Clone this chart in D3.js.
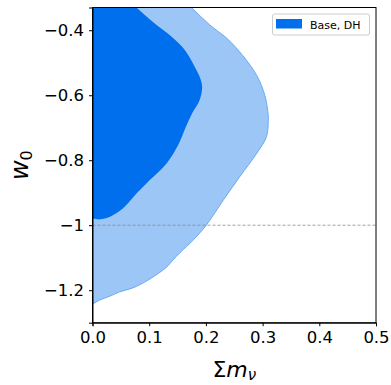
<!DOCTYPE html>
<html><head><meta charset="utf-8">
<script src="https://cdn.jsdelivr.net/npm/d3@7"></script>
<style>body{margin:0;background:#fff}svg{display:block;font-family:"DejaVu Sans",sans-serif}</style>
</head><body><svg id="c" width="391" height="385"></svg>
<script>
// Outer (95%) contour, Σmν vs w0
const outerM = [-0.05, 0.150, 0.175, 0.207, 0.237, 0.265, 0.290, 0.304, 0.310, 0.310, 0.307, 0.290, 0.260, 0.231, 0.201, 0.178, 0.154, 0.142, 0.130, 0.096, 0.071, 0.048, 0.031, 0.013, 0.0, -0.05];
const outerW = [-0.25, -0.29, -0.331, -0.384, -0.425, -0.478, -0.540, -0.601, -0.663, -0.678, -0.727, -0.778, -0.850, -0.922, -0.999, -1.045, -1.085, -1.107, -1.130, -1.171, -1.193, -1.205, -1.218, -1.230, -1.242, -1.26];
// Inner (68%) contour
const innerM = [-0.05, 0.057, 0.078, 0.113, 0.137, 0.160, 0.178, 0.193, 0.189, 0.176, 0.164, 0.152, 0.131, 0.101, 0.078, 0.054, 0.031, 0.013, 0.0, -0.05];
const innerW = [-0.25, -0.298, -0.331, -0.384, -0.416, -0.455, -0.505, -0.567, -0.615, -0.655, -0.700, -0.750, -0.809, -0.861, -0.902, -0.948, -0.974, -0.982, -0.979, -0.975];
const xTicks = [0, 0.1, 0.2, 0.3, 0.4, 0.5];
const xTickLabels = ["0.0", "0.1", "0.2", "0.3", "0.4", "0.5"];
const yTicks = [-0.4, -0.6, -0.8, -1.0, -1.2];
const yTickLabels = ["\u22120.4", "\u22120.6", "\u22120.8", "\u22121", "\u22121.2"];
const refW = -1;
const legendLabel = "Base, DH";

const L = 92.5, R = 376, T = 7.5, B = 322.7;
const x = d3.scaleLinear().domain([0, 0.5]).range([L, R]);
const y = d3.scaleLinear().domain([-1.3, -0.33]).range([B, T]);
const svg = d3.select("#c");

svg.append("defs").append("clipPath").attr("id", "clip")
  .append("rect").attr("x", L).attr("y", T).attr("width", R - L).attr("height", B - T);

const g = svg.append("g").attr("clip-path", "url(#clip)");
const line = d3.line().x(d => x(d[0])).y(d => y(d[1])).curve(d3.curveCatmullRomClosed.alpha(0.5));
const outer = outerM.map((m, i) => [m, outerW[i]]);
const inner = innerM.map((m, i) => [m, innerW[i]]);
g.append("path").attr("d", line(outer)).attr("fill", "#9cc6f6").attr("stroke", "#6aa9f1").attr("stroke-width", 1);
g.append("path").attr("d", line(inner)).attr("fill", "#006FED").attr("stroke", "none");

g.append("line").attr("x1", L).attr("x2", R).attr("y1", y(refW)).attr("y2", y(refW))
  .attr("stroke", "#888").attr("stroke-width", 0.8).attr("stroke-dasharray", "3,2");

// frame
svg.append("rect").attr("x", L).attr("y", T).attr("width", R - L).attr("height", B - T)
  .attr("fill", "none").attr("stroke", "#000").attr("stroke-width", 1);

const xa = svg.append("g").attr("transform", `translate(0,${B})`)
  .call(d3.axisBottom(x).tickValues(xTicks).tickFormat((d, i) => xTickLabels[i]).tickSize(3.5).tickPadding(5));
const ya = svg.append("g").attr("transform", `translate(${L},0)`)
  .call(d3.axisLeft(y).tickValues(yTicks).tickFormat((d, i) => yTickLabels[i]).tickSize(3.5).tickPadding(5));
[xa, ya].forEach(a => {
  a.select(".domain").attr("stroke", "#000").attr("stroke-width", 1);
  a.selectAll(".tick line").attr("stroke", "#000").attr("stroke-width", 1);
  a.selectAll(".tick text").attr("fill", "#000").style("font-family", "DejaVu Sans").style("font-size", "16.5px");
});

// axis labels
svg.append("text").attr("x", (L + R) / 2).attr("y", 377).attr("text-anchor", "middle")
  .style("font-size", "22px").html('\u03A3<tspan font-style="italic">m</tspan><tspan font-style="italic" font-size="15" dy="3">\u03BD</tspan>');
svg.append("text").attr("transform", `translate(28,${(T + B) / 2}) rotate(-90)`).attr("text-anchor", "middle")
  .style("font-size", "24px").html('<tspan font-style="italic">w</tspan><tspan font-size="16" dy="4">0</tspan>');

// legend
const lg = svg.append("g");
lg.append("rect").attr("x", 272.5).attr("y", 14).attr("width", 97).attr("height", 21).attr("rx", 2)
  .attr("fill", "#fff").attr("fill-opacity", 0.8).attr("stroke", "#ccc").attr("stroke-width", 1);
lg.append("rect").attr("x", 276).attr("y", 19).attr("width", 26).attr("height", 9.5).attr("fill", "#006FED");
lg.append("text").attr("x", 310).attr("y", 28.5).style("font-size", "11px").attr("fill", "#000").text(legendLabel);
</script></body></html>
